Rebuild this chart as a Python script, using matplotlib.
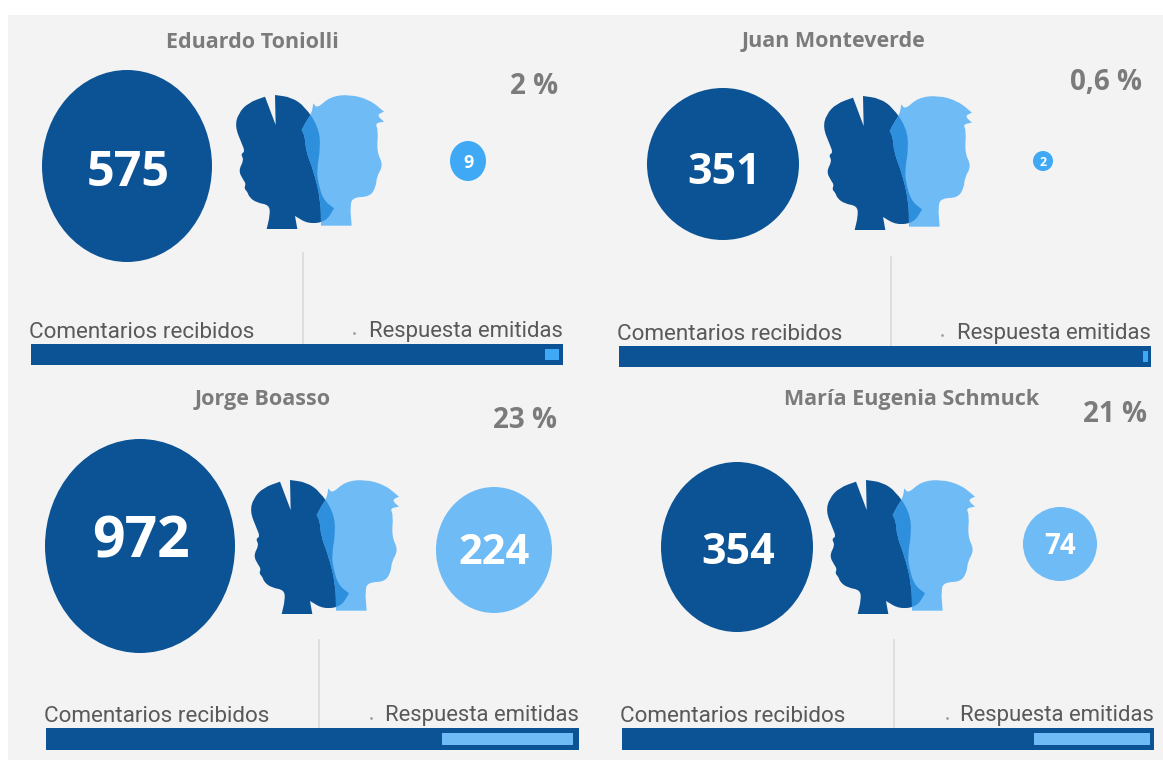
import matplotlib
matplotlib.use("Agg")
import matplotlib.pyplot as plt
from matplotlib.patches import Ellipse, Rectangle, PathPatch
from matplotlib.path import Path

W, H = 1163, 760
names = ["Eduardo Toniolli", "Juan Monteverde", "Jorge Boasso", "María Eugenia Schmuck"]
received = [575, 351, 972, 354]
responses = [9, 2, 224, 74]
pct_labels = ["2 %", "0,6 %", "23 %", "21 %"]
bar_share = [0.026, 0.009, 0.246, 0.218]
left_label = "Comentarios recibidos"
right_label = "Respuesta emitidas"

DARK, MID, LIGHT, BRIGHT = "#0b5394", "#2e8fdd", "#6fbbf6", "#3fa9f5"
BG = "#f3f3f3"
LABEL_FONT = ["Roboto", "Open Sans", "DejaVu Sans"]

# layout of each panel, in pixels
title_xy = [(252, 43), (833, 41), (263, 400), (912, 400)]
pct_xy = [(534, 87), (1106, 82), (525, 420), (1115, 415)]
big = [(127, 166, 85, 96), (723, 164, 76, 76), (140, 546, 95, 107), (737, 547, 76, 85)]
small = [(468, 161, 18, 20), (1043, 161, 10, 10), (494, 550, 58, 63), (1060, 544, 37, 37)]
big_text_y = [173, 172, 543, 552]
small_text_y = [163, 162, 554, 547]
head_off = [(0, 0), (588, 1), (15, 385), (591, 385)]
vline = [(303, 253, 343), (891, 257, 345), (319, 640, 727), (894, 640, 727)]
bar = [(31, 563, 344, 365), (619, 1151, 346, 367), (46, 579, 728, 750), (622, 1154, 728, 750)]
bar_margin = [4, 3, 6, 4]
dot = [(354, 333), (942, 335), (371, 718), (947, 718)]
big_fs = [35, 31, 41, 31]
small_fs = [13, 9, 30, 20]
small_col = [BRIGHT, BRIGHT, LIGHT, LIGHT]

# head outlines traced in a 540x480 box (3x zoom of the first panel, origin 220,80);
# a repeated point makes a sharp corner
dark_head = [(140, 447), (140, 447), (150, 405), (148, 375), (110, 368), (88, 352), (82, 335), (72, 325), (78, 312),
             (70, 300), (55, 272), (72, 240), (62, 222), (75, 215), (65, 190), (45, 140), (55, 100), (85, 68),
             (135, 50), (135, 50), (167, 135), (167, 135), (165, 45), (165, 45), (215, 52), (255, 80), (295, 140),
             (302, 200), (290, 270), (295, 310), (310, 360), (342, 385), (342, 385), (318, 425), (265, 432),
             (225, 408), (225, 408), (232, 447), (232, 447)]
light_head = [(303, 437), (303, 437), (302, 360), (280, 270), (258, 215), (255, 170), (245, 150), (245, 150),
              (258, 125), (275, 100), (280, 70), (280, 70), (292, 85), (330, 50), (390, 43), (450, 60), (492, 95),
              (492, 95), (470, 105), (492, 125), (492, 125), (465, 130), (475, 150), (470, 215), (490, 255),
              (470, 290), (468, 320), (450, 350), (400, 352), (390, 375), (395, 437), (395, 437)]

fig = plt.figure(figsize=(W / 100, H / 100), dpi=100, facecolor="white")
ax = fig.add_axes([0, 0, 1, 1])
ax.set_xlim(0, W)
ax.set_ylim(H, 0)
ax.axis("off")
ax.add_patch(Rectangle((8, 15), W - 8, H - 15, fc=BG, ec="none", zorder=0))

plt.rcParams["font.family"] = ["Open Sans", "DejaVu Sans"]


def smooth(pts):
    n = len(pts)
    mid = lambda a, b: ((a[0] + b[0]) / 2, (a[1] + b[1]) / 2)
    verts = [mid(pts[-1], pts[0])]
    codes = [Path.MOVETO]
    for k in range(n):
        verts += [pts[k], mid(pts[k], pts[(k + 1) % n])]
        codes += [Path.CURVE3, Path.CURVE3]
    return Path(verts, codes)


def head(dx, dy):
    def tr(pts):
        return [(220 + x / 3 + dx, 80 + y / 3 + dy) for x, y in pts]
    d = PathPatch(smooth(tr(dark_head)), fc=DARK, ec="none", zorder=3)
    l = PathPatch(smooth(tr(light_head)), fc=LIGHT, ec="none", zorder=4)
    o = PathPatch(smooth(tr(light_head)), fc=MID, ec="none", zorder=5)
    ax.add_patch(d); ax.add_patch(l); ax.add_patch(o)
    o.set_clip_path(d)


for i in range(4):
    ax.text(*title_xy[i], names[i], ha="center", va="center", fontsize=15.5, fontweight="bold", color="#7b7b7b")
    ax.text(*pct_xy[i], pct_labels[i], ha="center", va="center", fontsize=20, fontweight="bold", color="#7b7b7b")

    x, y, rx, ry = big[i]
    ax.add_patch(Ellipse((x, y), 2 * rx, 2 * ry, fc=DARK, ec="none", zorder=2))
    ax.text(x + 1, big_text_y[i], str(received[i]), ha="center", va="center", fontsize=big_fs[i], fontweight="bold",
            color="white", zorder=6)

    x, y, rx, ry = small[i]
    ax.add_patch(Ellipse((x, y), 2 * rx, 2 * ry, fc=small_col[i], ec="none", zorder=2))
    ax.text(x, small_text_y[i], str(responses[i]), ha="center", va="center", fontsize=small_fs[i], fontweight="bold",
            color="white", zorder=6)

    head(*head_off[i])

    vx, v0, v1 = vline[i]
    ax.plot([vx, vx], [v0, v1], color="#dcdcdc", lw=1.3, zorder=1)

    x0, x1, y0, y1 = bar[i]
    ax.add_patch(Rectangle((x0, y0), x1 - x0, y1 - y0, fc=DARK, ec="none", zorder=2))
    w = bar_share[i] * (x1 - x0)
    ax.add_patch(Rectangle((x1 - bar_margin[i] - w, y0 + 5), w, y1 - y0 - 10, fc=BRIGHT if i < 2 else LIGHT, ec="none", zorder=3))

    ax.text(x0 - 2, y0 - 1, left_label, ha="left", va="bottom", fontsize=16.2, family=LABEL_FONT, color="#595959", zorder=6)
    ax.text(x1, y0 - 2, right_label, ha="right", va="bottom", fontsize=15.9, family=LABEL_FONT, color="#595959", zorder=6)
    ax.plot(*dot[i], marker="o", ms=1, color="#a0a0a0", zorder=2)

fig.savefig("out.png", dpi=100, facecolor="white")
